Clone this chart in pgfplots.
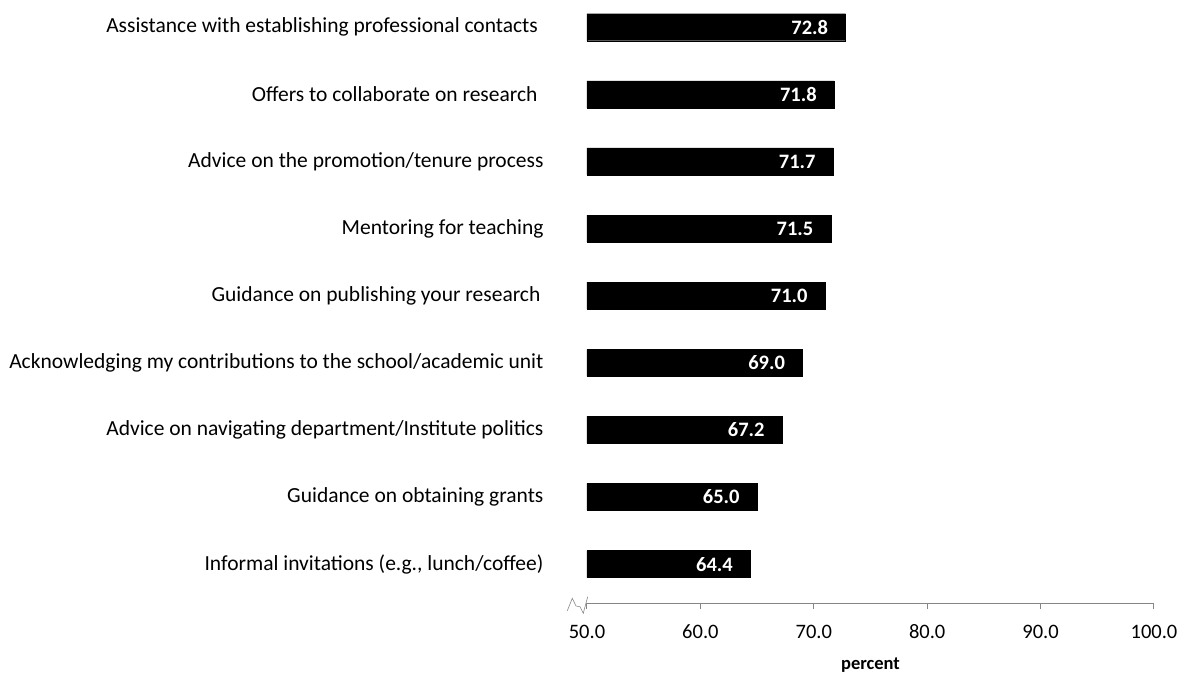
\documentclass[border=0pt]{standalone}
\usepackage{fontspec}
\setmainfont{Carlito}
\usepackage{pgfplots}
\pgfplotsset{compat=1.18}
\definecolor{axisgray}{HTML}{868686}
\begin{document}
\begin{tikzpicture}[x=1pt,y=1pt]
\begin{axis}[
  at={(0,0)}, anchor=south west,
  scale only axis, width=567pt, height=602.6pt,
  xbar, bar width=27pt,
  xmin=50, xmax=100, ymin=-0.58, ymax=8.4,
  axis x line*=bottom, axis y line*=left,
  y axis line style={draw=none},
  x axis line style={draw=axisgray, line width=1pt},
  xtick={50,60,...,100}, tick align=outside,
  x tick style={draw=axisgray, line width=1pt}, major tick length=6pt,
  ytick={0,...,8}, y tick style={draw=none},
  yticklabels={{Informal invitations (e.g., lunch/coffee)},
    {Guidance on obtaining grants},
    {Advice on navigating department/Institute politics},
    {Acknowledging my contributions to the school/academic unit},
    {Guidance on publishing your research\kern3pt},
    {Mentoring for teaching},
    {Advice on the promotion/tenure process},
    {Offers to collaborate on research\kern6pt},
    {Assistance with establishing professional contacts\kern5.5pt}},
  yticklabel style={font=\fontsize{21.5}{24}\selectfont, xshift=-34pt},
  xticklabel style={font=\fontsize{20.5}{24}\selectfont, anchor=base, yshift=-29.5pt},
  x tick label style={/pgf/number format/.cd, fixed, fixed zerofill, precision=1, assume math mode=true},
  xlabel={\textbf{percent}},
  xlabel style={at={(axis description cs:0.5,0)}, anchor=center, yshift=-62pt, font=\fontsize{18.5}{20}\selectfont},
  point meta=x,
  nodes near coords={\pgfmathprintnumber[fixed,fixed zerofill,precision=1,assume math mode=true]{\pgfplotspointmeta}},
  every node near coord/.append style={anchor=east, xshift=-14pt, text=white, font=\bfseries\fontsize{20.5}{22}\selectfont},
  clip=true,
]
\addplot[fill=black, draw=black] coordinates {(64.4,0) (65.0,1) (67.2,2) (69.0,3) (71.0,4) (71.5,5) (71.7,6) (71.8,7) (72.8,8)};
\end{axis}
\draw[axisgray, line width=0.6pt] (-19.7,-7.7) -- (-14.7,4.7) -- (-11,-3) -- (-7,-3.7) -- (-3.7,-10.3) -- (0.7,6.3);
\pgfresetboundingbox
\useasboundingbox (-587,-72) rectangle (597,603);
\end{tikzpicture}
\end{document}
